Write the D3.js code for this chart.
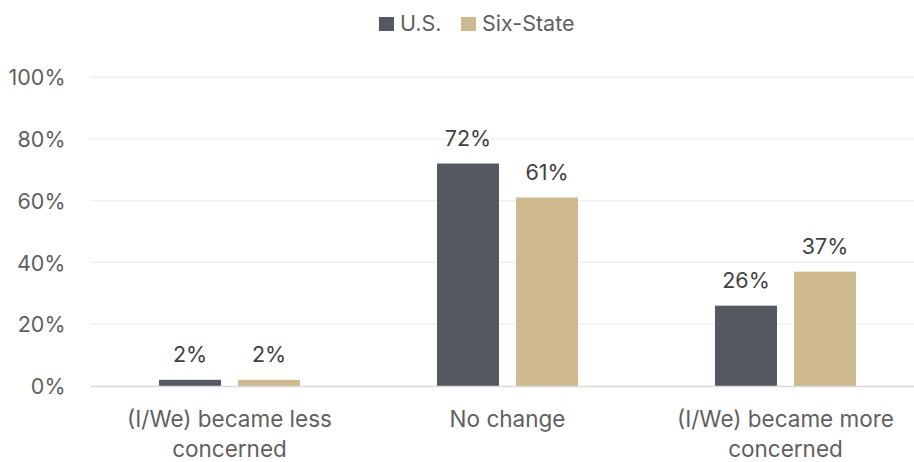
<!DOCTYPE html>
<html>
<head>
<meta charset="utf-8">
<script src="https://cdn.jsdelivr.net/npm/d3@7"></script>
<style>
  html, body { margin: 0; padding: 0; background: #fff; }
  svg { display: block; font-family: Inter, Roboto, "Noto Sans", sans-serif; }
</style>
</head>
<body>
<svg id="chart" width="914" height="462"></svg>
<script>
const categories = [["(I/We) became less", "concerned"], ["No change"], ["(I/We) became more", "concerned"]];
const seriesNames = ["U.S.", "Six-State"];
const usValues = [2, 72, 26];
const sixStateValues = [2, 61, 37];
const yTicks = [0, 20, 40, 60, 80, 100];
const seriesColors = ["#545860", "#cfba8f"];

const svg = d3.select("#chart");
const W = 914, H = 462;
const plotLeft = 90.5, bandStep = 278;
const baseY = 386, topY = 77;

const x = d3.scaleBand().domain(d3.range(categories.length))
  .range([plotLeft, plotLeft + bandStep * categories.length]).padding(0);
const xs = d3.scaleBand().domain(seriesNames).range([0, 141]).paddingInner(17 / 79);
const y = d3.scaleLinear().domain([0, 100]).range([baseY, topY]);

const textColor = "#5f5f5f";
const labelColor = "#414141";

// gridlines
svg.append("g").selectAll("line").data(yTicks.filter(d => d > 0)).join("line")
  .attr("x1", plotLeft).attr("x2", W)
  .attr("y1", d => y(d)).attr("y2", d => y(d))
  .attr("stroke", "#efefef").attr("stroke-width", 1.3);

// y axis labels
const yAxis = d3.axisLeft(y).tickValues(yTicks).tickFormat(d => d + "%").tickSize(0).tickPadding(25);
const ya = svg.append("g").attr("transform", `translate(${plotLeft},0)`).call(yAxis);
ya.select(".domain").remove();
ya.selectAll("text").attr("fill", textColor).attr("font-size", 21.5)
  .attr("font-family", "Inter, Roboto, sans-serif").attr("dy", "0.36em");

// bars and value labels
const series = [usValues, sixStateValues];
const groups = svg.append("g").selectAll("g").data(categories).join("g")
  .attr("transform", (d, i) => `translate(${x(i) + x.bandwidth() / 2 - 70.5},0)`);

groups.each(function (c, i) {
  const g = d3.select(this);
  seriesNames.forEach((s, k) => {
    const v = series[k][i];
    g.append("rect")
      .attr("x", xs(s)).attr("width", xs.bandwidth())
      .attr("y", y(v)).attr("height", y(0) - y(v))
      .attr("fill", seriesColors[k]);
    g.append("text")
      .attr("x", xs(s) + xs.bandwidth() / 2).attr("y", y(v) - 18)
      .attr("text-anchor", "middle").attr("fill", labelColor)
      .attr("font-size", 21.5).text(v + "%");
  });
});

// baseline
svg.append("line")
  .attr("x1", plotLeft).attr("x2", W)
  .attr("y1", y(0) + 0.5).attr("y2", y(0) + 0.5)
  .attr("stroke", "#d9d9d9").attr("stroke-width", 1.5);

// category labels
const xl = svg.append("g");
categories.forEach((lines, i) => {
  const t = xl.append("text").attr("text-anchor", "middle")
    .attr("fill", textColor).attr("font-size", 22.5);
  lines.forEach((ln, j) => {
    t.append("tspan").attr("x", x(i) + x.bandwidth() / 2)
      .attr("y", 427 + j * 30).text(ln);
  });
});

// legend
const legend = svg.append("g");
const legendItems = [{ name: seriesNames[0], x: 379 }, { name: seriesNames[1], x: 461 }];
legendItems.forEach((it, k) => {
  legend.append("rect").attr("x", it.x).attr("y", 17).attr("width", 15).attr("height", 14)
    .attr("fill", seriesColors[k]);
  legend.append("text").attr("x", it.x + 21).attr("y", 31)
    .attr("fill", textColor).attr("font-size", 21.5).text(it.name);
});
</script>
</body>
</html>
